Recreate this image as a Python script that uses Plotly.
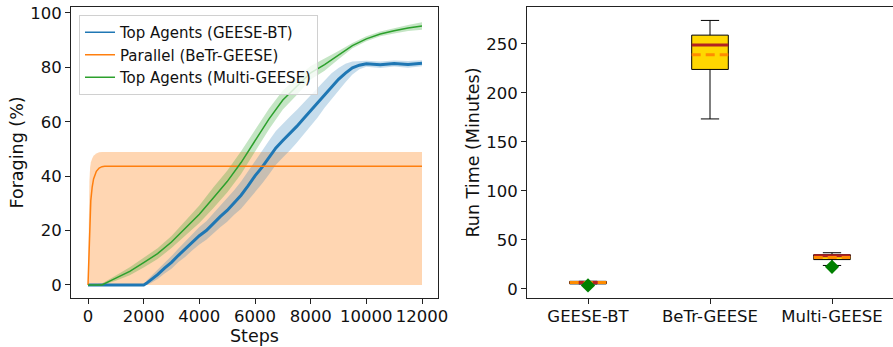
import plotly.graph_objects as go

# ---------------- data: foraging curves ----------------
blue_steps = [0, 500, 1000, 1500, 2000, 2100, 2250, 2500, 2750, 3000, 3250, 3500, 3750, 4000,
              4250, 4500, 4750, 5000, 5250, 5500, 5750, 6000, 6250, 6500, 6750, 7000, 7250,
              7500, 7750, 8000, 8250, 8500, 8750, 9000, 9250, 9500, 9750, 10000, 10500, 11000,
              11500, 12000]
blue_mean = [0, 0, 0, 0, 0, 0.6, 1.8, 3.8, 6.2, 8.3, 10.9, 13.2, 15.8, 18.1,
             20.0, 22.6, 25.1, 27.4, 30.3, 33.0, 36.4, 40.1, 43.2, 46.8, 50.4, 53.1, 55.6,
             58.3, 61.2, 64.1, 67.0, 70.2, 73.1, 75.6, 77.9, 79.8, 80.8, 81.3, 81.0, 81.4,
             81.1, 81.5]
blue_hi = [0, 0, 0, 0, 0, 1.5, 3.0, 5.5, 8.2, 10.6, 13.4, 16.0, 18.8, 21.3,
           23.4, 26.2, 29.0, 31.6, 34.8, 38.0, 41.8, 45.8, 49.2, 53.0, 56.6, 59.3, 61.8,
           64.3, 67.0, 69.6, 72.4, 75.2, 77.8, 79.8, 81.3, 82.2, 82.3, 82.4, 82.2, 82.5,
           82.3, 82.6]
blue_lo = [0, 0, 0, 0, 0, 0, 0.6, 2.2, 4.2, 6.0, 8.4, 10.4, 12.8, 14.9,
           16.6, 19.0, 21.2, 23.2, 25.8, 28.0, 31.0, 34.4, 37.2, 40.6, 44.2, 46.9, 49.4,
           52.3, 55.4, 58.6, 61.6, 65.2, 68.4, 71.4, 74.5, 77.4, 79.3, 80.2, 79.8, 80.3,
           79.9, 80.4]

orange_steps = [0, 25, 50, 75, 100, 150, 200, 300, 400, 500, 600, 12000]
orange_mean = [0, 8, 18, 26, 31, 36, 39, 41.8, 43.0, 43.5, 43.6, 43.6]
orange_hi = [0, 25, 38, 43, 45, 46.5, 47.5, 48.3, 48.8, 48.9, 48.9, 48.9]
orange_lo = [0, 0, 0, 0, 0, 0, 0, 0, 0, 0, 0, 0]

green_steps = [0, 500, 1000, 1500, 2000, 2500, 3000, 3500, 4000, 4500, 5000, 5500, 6000,
               6500, 7000, 7500, 8000, 8500, 9000, 9500, 10000, 10500, 11000, 11500, 12000]
green_mean = [0, 0, 2.5, 5.0, 8.2, 11.5, 15.8, 21.0, 26.0, 32.0, 38.0, 45.0, 53.0,
              61.0, 68.0, 73.0, 78.0, 81.0, 84.5, 88.0, 90.5, 92.3, 93.5, 94.5, 95.2]
green_hi = [0, 0.5, 3.5, 6.5, 10.0, 13.5, 18.0, 23.8, 29.2, 35.8, 42.0, 49.2, 57.0,
            64.8, 71.5, 76.2, 80.5, 83.2, 86.0, 89.0, 91.4, 93.2, 94.5, 95.6, 96.6]
green_lo = [0, 0, 1.5, 3.6, 6.4, 9.5, 13.6, 18.2, 22.8, 28.2, 34.0, 40.8, 49.0,
            57.2, 64.5, 69.8, 75.5, 78.8, 83.0, 87.0, 89.6, 91.4, 92.5, 93.4, 93.8]

legend_names = ["Top Agents (GEESE-BT)", "Parallel (BeTr-GEESE)", "Top Agents (Multi-GEESE)"]

# ---------------- data: run-time boxes ----------------
box_labels = ["GEESE-BT", "BeTr-GEESE", "Multi-GEESE"]
box_pos = [1, 2, 3]
box_q1 = [5.2, 224, 30]
box_median = [6.6, 249, 34]
box_q3 = [7.8, 259, 35]
box_lowfence = [5.2, 173.5, 24]
box_upfence = [7.8, 274, 37]
box_mean = [6.6, 239, 32]
flier_pos = [1, 3]
flier_vals = [3.6, 22.6]
xticks_left = [0, 2000, 4000, 6000, 8000, 10000, 12000]
xticklabels_left = ["0", "2000", "4000", "6000", "8000", "10000", "12000"]
yticks_left = [0, 20, 40, 60, 80, 100]
yticks_right = [0, 50, 100, 150, 200, 250]

BLUE, ORANGE, GREEN = "#1f77b4", "#ff7f0e", "#2ca02c"
FONT = "DejaVu Sans"

fig = go.Figure()


def band(xs, lo, hi, color):
    fig.add_trace(go.Scatter(x=xs, y=lo, mode="lines", line=dict(width=0), showlegend=False,
                             hoverinfo="skip", xaxis="x", yaxis="y"))
    fig.add_trace(go.Scatter(x=xs, y=hi, mode="lines", line=dict(width=0), fill="tonexty",
                             fillcolor=color, showlegend=False, hoverinfo="skip",
                             xaxis="x", yaxis="y"))


band(orange_steps, orange_lo, orange_hi, "rgba(255,127,14,0.32)")
band(blue_steps, blue_lo, blue_hi, "rgba(31,119,180,0.25)")
band(green_steps, green_lo, green_hi, "rgba(44,160,44,0.28)")

fig.add_trace(go.Scatter(x=blue_steps, y=blue_mean, mode="lines", line=dict(color=BLUE, width=3),
                         showlegend=False, xaxis="x", yaxis="y"))
fig.add_trace(go.Scatter(x=orange_steps, y=orange_mean, mode="lines",
                         line=dict(color=ORANGE, width=1.5), showlegend=False, xaxis="x", yaxis="y"))
fig.add_trace(go.Scatter(x=green_steps, y=green_mean, mode="lines", line=dict(color=GREEN, width=1.5),
                         showlegend=False, xaxis="x", yaxis="y"))

# legend entries (thin lines like reference)
for name, col in zip(legend_names, [BLUE, ORANGE, GREEN]):
    fig.add_trace(go.Scatter(x=[None], y=[None], mode="lines", name=name,
                             line=dict(color=col, width=1.5), xaxis="x", yaxis="y"))

# ---------------- box plot ----------------
fig.add_trace(go.Box(x=box_pos, q1=box_q1, median=box_median, q3=box_q3,
                     lowerfence=box_lowfence, upperfence=box_upfence,
                     fillcolor="#FFD700", line=dict(color="black", width=1),
                     width=0.3, whiskerwidth=0.5, boxpoints=False, showlegend=False,
                     xaxis="x2", yaxis="y2"))

HALF = 0.15
med_x, med_y, mean_x, mean_y = [], [], [], []
for p, m, mn in zip(box_pos, box_median, box_mean):
    med_x += [p - HALF, p + HALF, None]
    med_y += [m, m, None]
    mean_x += [p - HALF, p + HALF, None]
    mean_y += [mn, mn, None]
fig.add_trace(go.Scatter(x=med_x, y=med_y, mode="lines", line=dict(color="#B22222", width=3),
                         showlegend=False, xaxis="x2", yaxis="y2"))
fig.add_trace(go.Scatter(x=mean_x, y=mean_y, mode="lines",
                         line=dict(color="#FF8C00", width=3, dash="9px,5px"),
                         showlegend=False, xaxis="x2", yaxis="y2"))
fig.add_trace(go.Scatter(x=flier_pos, y=flier_vals, mode="markers",
                         marker=dict(symbol="diamond", color="#008000", size=11),
                         showlegend=False, xaxis="x2", yaxis="y2"))

axis_common = dict(showline=True, linecolor="#222", linewidth=1, ticks="outside", ticklen=5,
                   tickwidth=1, tickcolor="#222", showgrid=False, zeroline=False,
                   automargin=False,
                   tickfont=dict(family=FONT, size=16.5, color="#111"))

L, R, T, B = 71, 0, 7, 49
W, H = 893, 347
PW = W - L - R
PH = H - T - B


def px_x(x):
    return (x - L) / PW


def px_y(y):
    return (H - B - y) / PH


fig.update_layout(
    width=W, height=H, margin=dict(l=L, r=R, t=T, b=B, autoexpand=False),
    paper_bgcolor="white", plot_bgcolor="white",
    font=dict(family=FONT, color="#111"),
    xaxis=dict(domain=[0, px_x(438)], range=[-611, 12575], tickvals=xticks_left,
               ticktext=xticklabels_left, mirror=True, anchor="y", ticklabelstandoff=-2,
               **axis_common),
    yaxis=dict(domain=[0, 1], range=[-4.8, 102.2], tickvals=yticks_left, mirror=True,
               anchor="x", **axis_common),
    xaxis2=dict(domain=[px_x(527), 1], range=[0.5, 3.5], tickvals=box_pos, ticktext=box_labels,
                mirror=True, anchor="y2", ticklabelstandoff=-2, **axis_common),
    yaxis2=dict(domain=[0, 1], range=[-9.2, 287.7], tickvals=yticks_right, mirror=False,
                anchor="x2", **axis_common),
    legend=dict(x=px_x(79), y=px_y(15), xanchor="left", yanchor="top", traceorder="normal",
                bgcolor="rgba(255,255,255,0.8)", bordercolor="#d0d0d0", borderwidth=1,
                font=dict(family=FONT, size=15, color="#111"), itemwidth=30,
                tracegroupgap=0),
    annotations=[
        dict(text="Foraging (%)", x=px_x(16), y=px_y(152.5), xref="paper", yref="paper",
             xanchor="center", yanchor="middle",
             textangle=-90, showarrow=False, font=dict(family=FONT, size=17.5, color="#111")),
        dict(text="Steps", x=px_x(254.5), y=px_y(336), xref="paper", yref="paper",
             xanchor="center", yanchor="middle",
             showarrow=False, font=dict(family=FONT, size=17.5, color="#111")),
        dict(text="Run Time (Minutes)", x=px_x(472), y=px_y(152.5), xref="paper", yref="paper",
             xanchor="center", yanchor="middle",
             textangle=-90, showarrow=False, font=dict(family=FONT, size=17.5, color="#111")),
    ],
)

fig.write_html("out.html")
